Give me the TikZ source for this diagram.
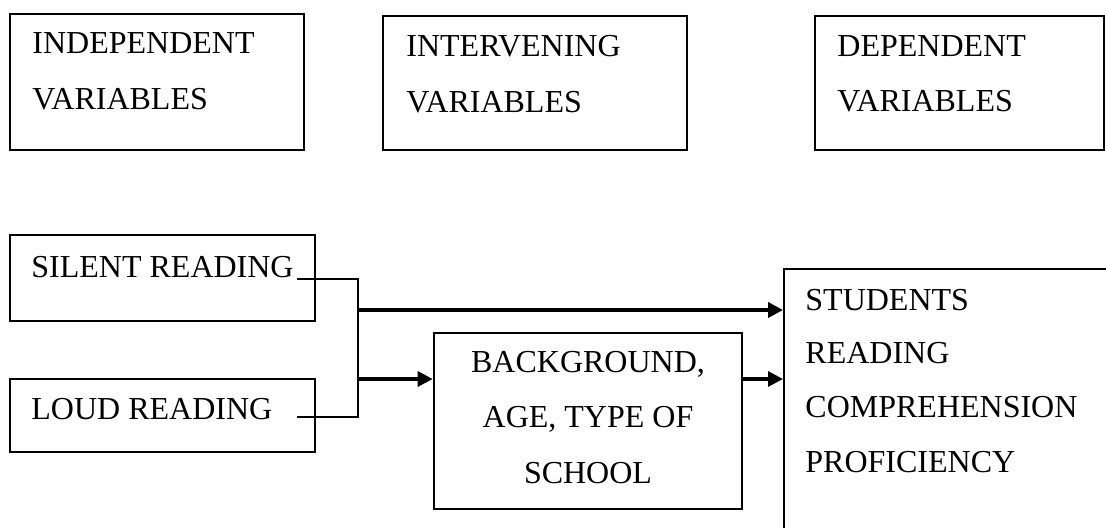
\documentclass[tikz,border=0pt]{standalone}
\usepackage{fontspec}
\setmainfont{Liberation Serif}
\usetikzlibrary{fit,arrows.meta}
\begin{document}
\begin{tikzpicture}[x=0.5pt,y=-0.5pt,
  box/.style={draw=black, line width=1pt, inner sep=0pt, fill=none},
  lbl/.style={inner sep=0pt, font=\fontsize{16}{19}\selectfont, anchor=base west},
  clbl/.style={inner sep=0pt, font=\fontsize{16}{19}\selectfont, anchor=base},
  conn/.style={draw=black, line width=1pt},
  arr/.style={draw=black, line width=1.6pt, -{Triangle[length=7.5pt,width=7.5pt]}},
  thickarr/.style={draw=black, line width=2pt, -{Triangle[length=7.5pt,width=7.5pt]}}]
\clip (0,0) rectangle (1106,527);
\fill[white] (0,0) rectangle (1106,527);
% top boxes
\node[box, fit={(10,14) (304,150)}] (indep) {};
\node[lbl] (indepA) at (32,53) {INDEPENDENT};
\node[lbl] (indepB) at (32,109) {VARIABLES};
\node[box, fit={(383,16) (687,150)}] (interv) {};
\node[lbl] (intervA) at (406,56) {INTERVENING};
\node[lbl] (intervB) at (406,112) {VARIABLES};
\node[box, fit={(815,16) (1104,150)}] (dep) {};
\node[lbl] (depA) at (837,56) {DEPENDENT};
\node[lbl] (depB) at (837,111) {VARIABLES};
% bottom boxes
\node[box, fit={(10,235) (315,321)}] (silent) {};
\node[lbl] (silentT) at (31,277) {SILENT READING};
\node[box, fit={(10,379) (315,452)}] (loud) {};
\node[lbl] (loudT) at (31,419) {LOUD READING};
\node[box, line width=1.3pt, fit={(434,333) (742,509)}] (bg) {};
\node[clbl] (bgA) at (588,372) {BACKGROUND,};
\node[clbl] (bgB) at (588,427) {AGE, TYPE OF};
\node[clbl] (bgC) at (588,483) {SCHOOL};
\node[box, fit={(784,269) (1160,580)}] (stud) {};
\node[lbl] (studA) at (805,310) {STUDENTS};
\node[lbl] (studB) at (805,363) {READING};
\node[lbl] (studC) at (805,417) {COMPREHENSION};
\node[lbl] (studD) at (805,472) {PROFICIENCY};
% connectors
\coordinate (s1) at (297,279);
\coordinate (l1) at (297,417);
\coordinate (j1) at (358,279);
\coordinate (j2) at (358,417);
\coordinate (jt) at (358,310);
\coordinate (jb) at (358,379);
\draw[conn] (s1) -- (j1) -- (j2) -- (l1);
\draw[thickarr] (jt) -- (jt -| stud.west);
\draw[arr] (jb) -- (jb -| bg.west);
\draw[arr] (jb -| bg.east) -- (jb -| stud.west);
\end{tikzpicture}
\end{document}
